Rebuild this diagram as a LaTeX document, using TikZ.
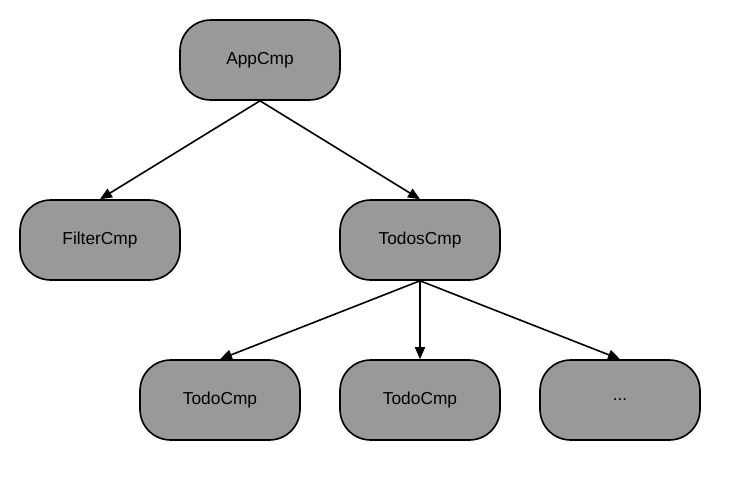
\documentclass[tikz,border=0pt]{standalone}
\usepackage{fontspec}
\setmainfont{Liberation Sans}
\usetikzlibrary{arrows.meta}
\definecolor{cmpgray}{HTML}{999999}
\begin{document}
\begin{tikzpicture}[x=0.75pt, y=-0.75pt,
		cmp/.style={draw=black, line width=1.2pt, fill=cmpgray, rounded corners=23pt,
			minimum width=120pt, minimum height=60pt, font=\fontsize{13}{15}\selectfont},
		link/.style={-{Triangle[length=9pt,width=7.5pt]}, line width=1.2pt}]
				\useasboundingbox (0,0) rectangle (740,480);
				\node[cmp] (app) at (260,60) {AppCmp};
				\node[cmp] (filter) at (100,240) {FilterCmp};
				\node[cmp] (todos) at (420,240) {TodosCmp};
				\node[cmp] (todoa) at (220,400) {TodoCmp};
				\node[cmp] (todob) at (420,400) {TodoCmp};
				\node[cmp] (dots) at (620,400) {...};
				\foreach \t in {filter, todos} {
					\draw[link] (app.south) -- (\t.north);
				}
				\foreach \t in {todoa, todob, dots} {
					\draw[link] (todos.south) -- (\t.north);
				}
			\end{tikzpicture}
\end{document}
